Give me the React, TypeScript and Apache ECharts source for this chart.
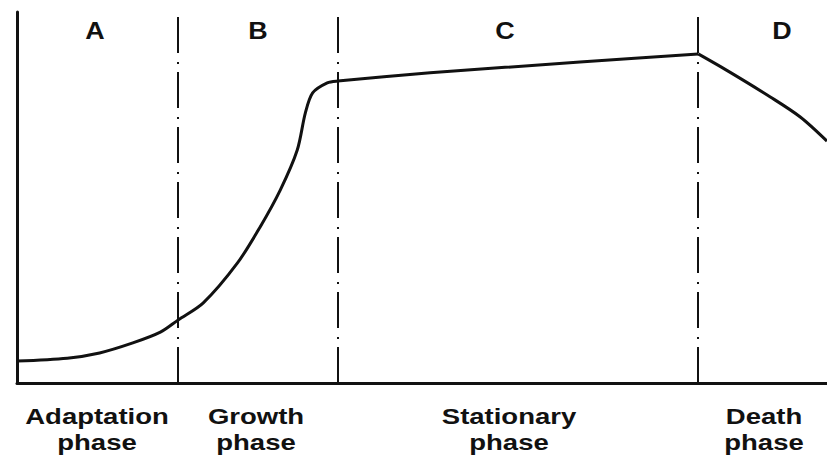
import React, { useEffect, useRef } from "react";
import * as echarts from "echarts";

const growthX = [0, 6.2, 10.2, 14.3, 17.7, 19.9, 23.0, 27.2, 30.0, 32.5, 34.6, 35.6, 36.5, 38.3, 39.6, 51.0, 69.5, 84.1];
const growthY = [5.9, 6.7, 8.1, 10.8, 13.7, 17.0, 21.6, 32.3, 42.0, 52.0, 62.8, 72.8, 78.2, 80.9, 81.4, 83.6, 86.5, 88.7];
const deathX = [84.1, 88.0, 93.0, 96.7, 100];
const deathY = [88.7, 83.8, 77.1, 71.7, 65.2];
const phaseBounds = [19.9, 39.6, 84.1];
const phaseLetters = ["A", "B", "C", "D"];
const phaseNames = ["Adaptation\nphase", "Growth\nphase", "Stationary\nphase", "Death\nphase"];

const letterX = [95, 258, 505, 782];
const nameX = [97, 256, 509, 764];

export default function App() {
  const ref = useRef<HTMLDivElement>(null);
  useEffect(() => {
    const chart = echarts.init(ref.current!, null, { renderer: "svg" });
    const font = '"Liberation Sans", Arial, Helvetica, sans-serif';
    const graphics: any[] = [];
    phaseLetters.forEach((t, i) => {
      graphics.push({
        type: "text",
        x: letterX[i],
        y: 31,
        scaleX: 1.12,
        style: { text: t, font: `bold 24px ${font}`, fill: "#111", align: "center", verticalAlign: "middle" },
      });
    });
    phaseNames.forEach((t, i) => {
      graphics.push({
        type: "text",
        x: nameX[i],
        y: 403,
        scaleX: 1.25,
        style: { text: t, font: `bold 22px ${font}`, fill: "#111", align: "center", verticalAlign: "top", lineHeight: 26 },
      });
    });
    chart.setOption({
      animation: false,
      backgroundColor: "#fff",
      grid: { left: 17, right: 0, top: 12, bottom: 76 },
      xAxis: {
        type: "value",
        min: 0,
        max: 100,
        axisLine: { show: true, onZero: false, lineStyle: { color: "#111", width: 3 } },
        axisTick: { show: false },
        axisLabel: { show: false },
        splitLine: { show: false },
      },
      yAxis: {
        type: "value",
        min: 0,
        max: 100,
        axisLine: { show: true, onZero: false, lineStyle: { color: "#111", width: 3 } },
        axisTick: { show: false },
        axisLabel: { show: false },
        splitLine: { show: false },
      },
      series: [
        {
          type: "line",
          data: growthX.map((x, i) => [x, growthY[i]]),
          smooth: 0.3,
          showSymbol: false,
          lineStyle: { color: "#111", width: 3 },
          markLine: {
            silent: true,
            symbol: "none",
            label: { show: false },
            lineStyle: { color: "#111", width: 2, type: [36, 8, 2, 9] },
            data: phaseBounds.map((x) => ({ xAxis: x })),
          },
        },
        {
          type: "line",
          data: deathX.map((x, i) => [x, deathY[i]]),
          smooth: 0.3,
          showSymbol: false,
          lineStyle: { color: "#111", width: 3 },
        },
      ],
      graphic: graphics,
    });
    return () => chart.dispose();
  }, []);
  return <div ref={ref} style={{ width: 827, height: 459, position: "absolute", left: 0, top: 0 }} />;
}
